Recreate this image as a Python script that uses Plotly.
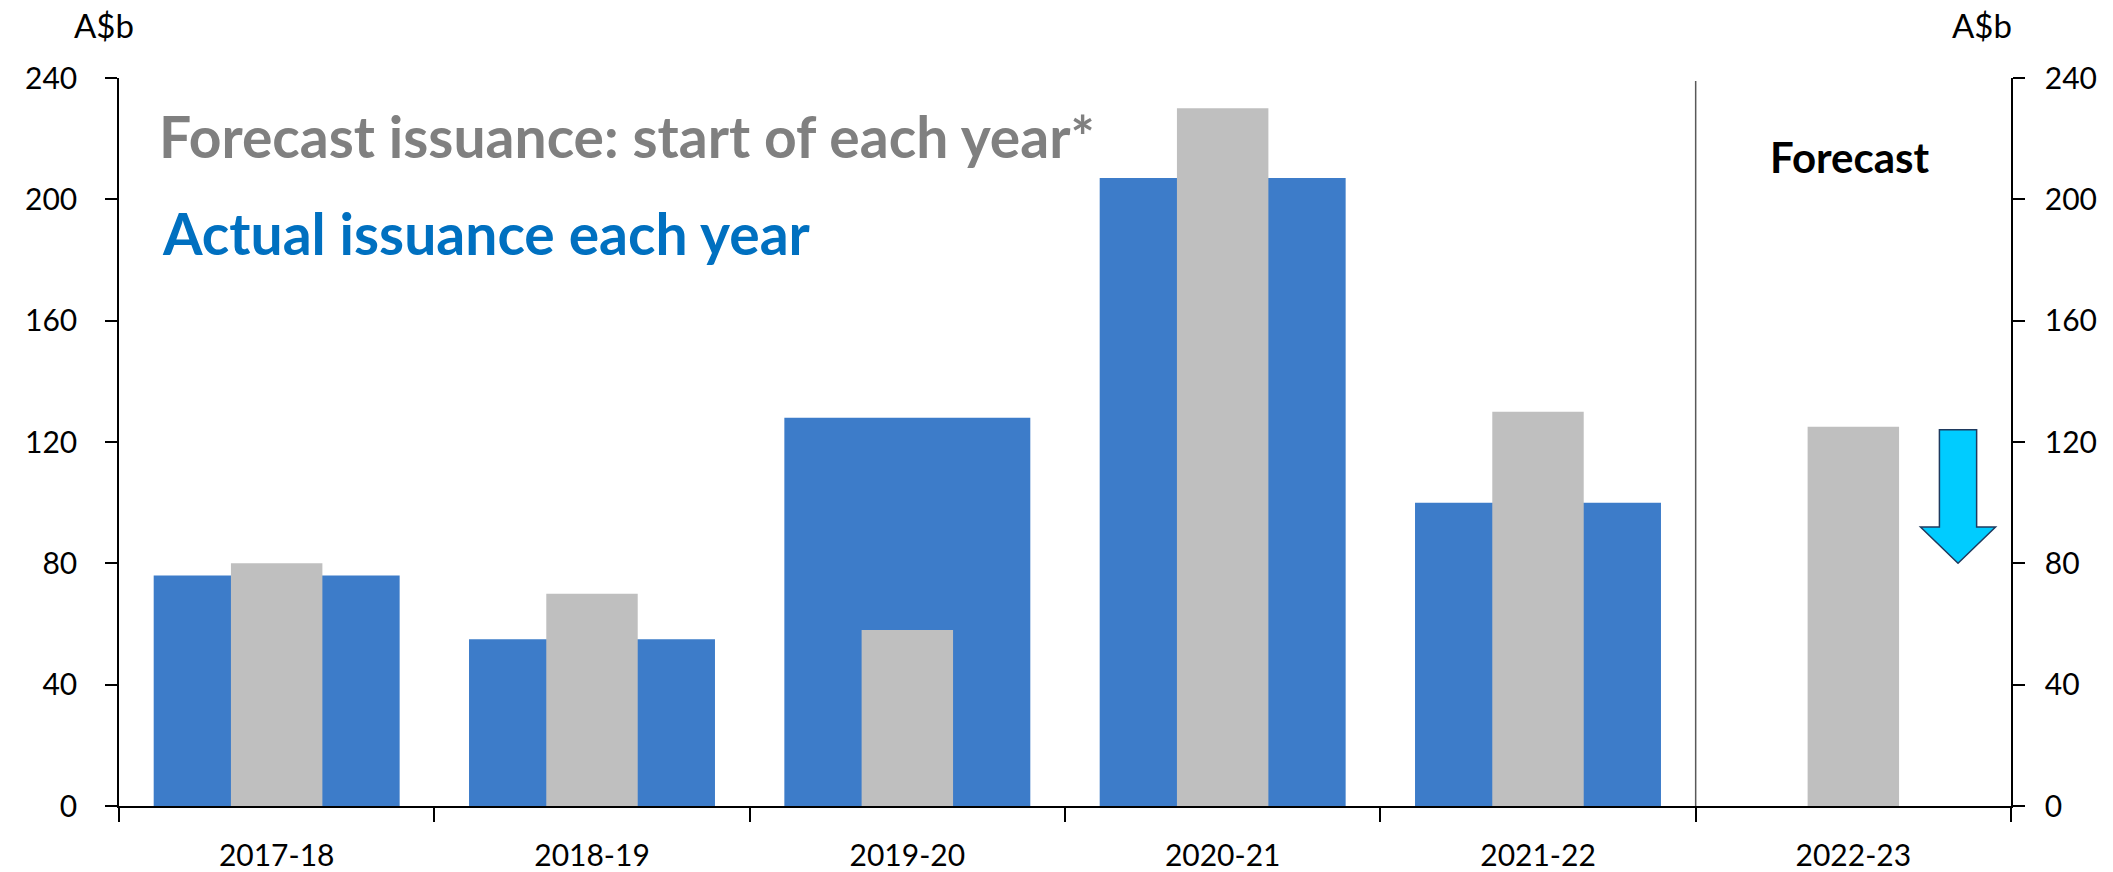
import plotly.graph_objects as go

# ---- data ----
categories = ["2017-18", "2018-19", "2019-20", "2020-21", "2021-22", "2022-23"]
actual_issuance = [76, 55, 128, 207, 100, None]
forecast_issuance = [80, 70, 58, 230, 130, 125]
y_ticks = [0, 40, 80, 120, 160, 200, 240]
arrow_top, arrow_neck, arrow_tip = 124, 92, 80

BLUE = "#3D7CC9"
GRAY = "#BFBFBF"
FONT = "Lato"

fig = go.Figure()
fig.add_trace(go.Bar(x=categories, y=actual_issuance, width=0.78,
                     marker=dict(color=BLUE, line=dict(width=0)),
                     hoverinfo="skip", showlegend=False))
fig.add_trace(go.Bar(x=categories, y=forecast_issuance, width=0.29,
                     marker=dict(color=GRAY, line=dict(width=0)),
                     hoverinfo="skip", showlegend=False))
# invisible trace to carry the right-hand axis
fig.add_trace(go.Scatter(x=categories, y=forecast_issuance, yaxis="y2",
                         mode="markers", marker=dict(opacity=0),
                         hoverinfo="skip", showlegend=False))

axis_common = dict(range=[0, 240], tickvals=y_ticks, showgrid=False, automargin=False,
                   zeroline=False, showline=True, linecolor="black", linewidth=1.5,
                   ticks="outside", ticklen=12, tickwidth=1.5, tickcolor="black",
                   tickfont=dict(family=FONT, size=30, color="black"))

fig.update_layout(
    width=2113, height=872,
    margin=dict(l=119, r=102, t=78, b=66, autoexpand=False),
    paper_bgcolor="white", plot_bgcolor="white",
    barmode="overlay",
    xaxis=dict(type="category", range=[-0.5, 5.5], tickson="boundaries",
               automargin=False,
               showgrid=False, zeroline=False, showline=True, linecolor="black",
               linewidth=1.5, ticks="outside", ticklen=14, tickwidth=1.5,
               tickcolor="black", ticklabelstandoff=22,
               tickfont=dict(family=FONT, size=30, color="black")),
    yaxis=dict(side="left", ticklabelstandoff=22, **axis_common),
    yaxis2=dict(side="right", overlaying="y", ticklabelstandoff=14, **axis_common),
)

# divider between actuals and forecast
fig.add_shape(type="line", xref="x", yref="y", x0=4.5, x1=4.5, y0=0, y1=239,
              line=dict(color="#595959", width=1.5))

# downward arrow
cx, sw, hw = 5.332, 0.059, 0.119
path = (f"M {cx-sw},{arrow_top} L {cx+sw},{arrow_top} L {cx+sw},{arrow_neck} "
        f"L {cx+hw},{arrow_neck} L {cx},{arrow_tip} L {cx-hw},{arrow_neck} "
        f"L {cx-sw},{arrow_neck} Z")
fig.add_shape(type="path", xref="x", yref="y", path=path,
              fillcolor="#00CCFF", line=dict(color="#1F3A5F", width=1.5))

# text
fig.add_annotation(xref="x", yref="y", x=-0.378, y=221, xanchor="left", yanchor="middle",
                   text="<b>Forecast issuance: start of each year*</b>", showarrow=False,
                   font=dict(family=FONT, size=57, color="#808080"))
fig.add_annotation(xref="x", yref="y", x=-0.37, y=189, xanchor="left", yanchor="middle",
                   text="<b>Actual issuance each year</b>", showarrow=False,
                   font=dict(family=FONT, size=57, color="#0070C0"))
fig.add_annotation(xref="x", yref="y", x=4.99, y=214, xanchor="center", yanchor="middle",
                   text="<b>Forecast</b>", showarrow=False,
                   font=dict(family=FONT, size=42, color="black"))
fig.add_annotation(xref="paper", yref="paper", x=(104 - 119) / 1892, y=(806 - 25) / 728,
                   xanchor="center", yanchor="middle", text="A$b", showarrow=False,
                   font=dict(family=FONT, size=33, color="black"))
fig.add_annotation(xref="paper", yref="paper", x=(1982 - 119) / 1892, y=(806 - 25) / 728,
                   xanchor="center", yanchor="middle", text="A$b", showarrow=False,
                   font=dict(family=FONT, size=33, color="black"))

fig.write_html("out.html")
